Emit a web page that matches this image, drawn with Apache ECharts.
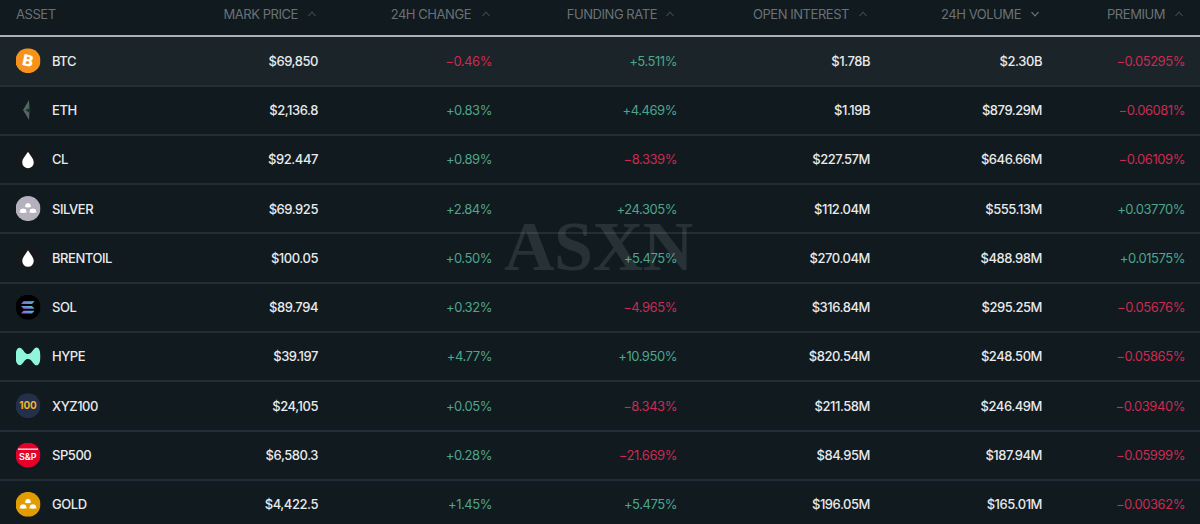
<!DOCTYPE html>
<html lang="en">
<head>
<meta charset="UTF-8">
<title>Perps</title>
<script src="https://cdn.jsdelivr.net/npm/echarts@6/dist/echarts.min.js"></script>
<style>
  html, body { margin: 0; background: #101a1f; }
  #chart { width: 1200px; height: 524px; }
  #chart svg text { letter-spacing: -0.45px; }
</style>
</head>
<body>
<div id="chart"></div>
<script>
var assets = ['BTC', 'ETH', 'CL', 'SILVER', 'BRENTOIL', 'SOL', 'HYPE', 'XYZ100', 'SP500', 'GOLD'];
var markPrice = ['$69,850', '$2,136.8', '$92.447', '$69.925', '$100.05', '$89.794', '$39.197', '$24,105', '$6,580.3', '$4,422.5'];
var change24h = [-0.46, 0.83, 0.89, 2.84, 0.50, 0.32, 4.77, 0.05, 0.28, 1.45];
var fundingRate = [5.511, 4.469, -8.339, 24.305, 5.475, -4.965, 10.950, -8.343, -21.669, 5.475];
var openInterest = ['$1.78B', '$1.19B', '$227.57M', '$112.04M', '$270.04M', '$316.84M', '$820.54M', '$211.58M', '$84.95M', '$196.05M'];
var volume24h = ['$2.30B', '$879.29M', '$646.66M', '$555.13M', '$488.98M', '$295.25M', '$248.50M', '$246.49M', '$187.94M', '$165.01M'];
var premium = [-0.05295, -0.06081, -0.06109, 0.03770, 0.01575, -0.05676, -0.05865, -0.03940, -0.05999, -0.00362];
var headers = ['MARK PRICE', '24H CHANGE', 'FUNDING RATE', 'OPEN INTEREST', '24H VOLUME', 'PREMIUM'];

// layout, in pixels of the 1200 wide page
var colRight = [318, 492, 677, 870, 1042, 1185];
var headRight = [298, 471, 657, 849, 1021, 1165];
var chevronX = [312, 486, 670, 863, 1035, 1179];

var FONT = 'Inter';
var GREEN = '#4fa58b', RED = '#cb2a52', WHITE = '#e8eaeb', GREY = '#6a7276';

function svg(inner) {
    return 'image://data:image/svg+xml,' + encodeURIComponent(
        '<svg xmlns="http://www.w3.org/2000/svg" width="100" height="100" viewBox="0 0 100 100">' + inner + '</svg>');
}
var DROP = '<circle cx="50" cy="50" r="50" fill="#16191b"/><path d="M50 20C40 36 27 48 27 63a23 23 0 0 0 46 0C73 48 60 36 50 20Z" fill="#fff"/>';
var BARS = '<g fill="#fff"><path d="M50 28l9 4 3 12-12 2-12-2 3-12z"/><path d="M31 50l10 3 4 13-14 2-15-2 4-13z"/><path d="M69 50l11 3 4 13-15 2-14-2 4-13z"/></g>';
var icons = [
    svg('<circle cx="50" cy="50" r="50" fill="#f7931a"/><text x="50" y="72" font-family="DejaVu Sans" font-weight="bold" font-size="62" text-anchor="middle" fill="#fff" transform="rotate(12 50 50)">B</text>'),
    svg('<path d="M54 10L30 50 54 90z" fill="#56645f"/><path d="M54 10L60 50 54 90z" fill="#0f4535"/><path d="M40 50l14 10 6-10-6-6z" fill="#16302a"/>'),
    svg(DROP),
    svg('<circle cx="50" cy="50" r="50" fill="#b4b0bd"/>' + BARS),
    svg(DROP),
    svg('<circle cx="50" cy="50" r="50" fill="#000"/><defs><linearGradient id="g" x1="0" x2="1" y1="1" y2="0"><stop offset="0" stop-color="#b040f0"/><stop offset="1" stop-color="#30e0c0"/></linearGradient></defs><g fill="url(#g)"><path d="M32 26h44l-10 11H22z"/><path d="M22 45h44l10 11H32z"/><path d="M32 64h44l-10 11H22z"/></g>'),
    svg('<path d="M0 50C0 18 14 8 26 20c10 10 12 20 24 20s16-12 26-22c12-10 24 2 24 32s-12 42-24 32c-10-10-14-22-26-22s-14 10-24 20C14 92 0 82 0 50Z" fill="#8ff5dc"/>'),
    svg('<circle cx="50" cy="50" r="50" fill="#22304a"/><text x="50" y="64" font-family="Inter" font-weight="bold" font-size="40" text-anchor="middle" fill="#f0b429">100</text>'),
    svg('<circle cx="50" cy="50" r="50" fill="#e4002b"/><rect x="10" y="24" width="80" height="5" fill="#fff"/><text x="50" y="68" font-family="Inter" font-weight="600" font-size="36" text-anchor="middle" fill="#fff">S&amp;P</text>'),
    svg('<circle cx="50" cy="50" r="50" fill="#e09c00"/>' + BARS)
];

function signed(v, digits) {
    return (v < 0 ? '\u2212' : '+') + Math.abs(v).toFixed(digits) + '%';
}

function textColumn(col, values, fmt, color) {
    return {
        type: 'scatter',
        symbolSize: 0,
        silent: true,
        z: 4,
        data: assets.map(function (a, i) {
            return {
                value: [colRight[col], a],
                label: { formatter: fmt(values[i]), color: color(values[i]) }
            };
        }),
        label: {
            show: true,
            position: 'left',
            distance: 0,
            fontFamily: FONT,
            fontSize: 13,
            fontWeight: color === solid ? 500 : 400
        },
        itemStyle: { opacity: 1 }
    };
}
function solid() { return WHITE; }
function bySign(v) { return v < 0 ? RED : GREEN; }
function plain(v) { return v; }

var series = [
    // icons
    {
        type: 'scatter', silent: true, z: 3, symbolSize: 25, symbolKeepAspect: true,
        itemStyle: { opacity: 1 },
        data: assets.map(function (a, i) {
            return { value: [28, a], symbol: icons[i] };
        })
    },
    // names
    {
        type: 'scatter', silent: true, z: 4, symbolSize: 0,
        itemStyle: { opacity: 1 },
        data: assets.map(function (a) { return { value: [52, a], label: { formatter: a } }; }),
        label: { show: true, position: 'right', distance: 0, fontFamily: FONT, fontSize: 13, fontWeight: 500, color: WHITE }
    },
    textColumn(0, markPrice, plain, solid),
    textColumn(1, change24h, function (v) { return signed(v, 2); }, bySign),
    textColumn(2, fundingRate, function (v) { return signed(v, 3); }, bySign),
    textColumn(3, openInterest, plain, solid),
    textColumn(4, volume24h, plain, solid),
    textColumn(5, premium, function (v) { return signed(v, 5); }, bySign),
    // header labels
    {
        type: 'scatter', silent: true, xAxisIndex: 1, yAxisIndex: 1, symbolSize: 0,
        itemStyle: { opacity: 1 },
        data: headers.map(function (h, i) {
            return { value: [headRight[i], 'head'], label: { formatter: h } };
        }),
        label: { show: true, position: 'left', distance: 0, fontFamily: FONT, fontSize: 13, color: GREY }
    },
    {
        type: 'scatter', silent: true, xAxisIndex: 1, yAxisIndex: 1, symbolSize: 0,
        itemStyle: { opacity: 1 },
        data: [{ value: [16, 'head'], label: { formatter: 'ASSET' } }],
        label: { show: true, position: 'right', distance: 0, fontFamily: FONT, fontSize: 13, color: GREY }
    },
    // sort chevrons
    {
        type: 'scatter', silent: true, xAxisIndex: 1, yAxisIndex: 1, symbolSize: [7, 4],
        data: headers.map(function (h, i) {
            var down = h === '24H VOLUME';
            return {
                value: [chevronX[i], 'head'],
                symbol: down ? 'path://M0 0L5 4 10 0' : 'path://M0 4L5 0 10 4',
                itemStyle: { opacity: 1, color: 'none', borderColor: down ? '#69757a' : '#3b464b', borderWidth: 1 }
            };
        })
    }
];

var chart = echarts.init(document.getElementById('chart'), null, { renderer: 'svg' });
chart.setOption({
    backgroundColor: '#101a1f',
    animation: false,
    grid: [
        { left: 0, right: 0, top: 36, height: 493, outerBoundsMode: 'none' },
        { left: 0, right: 0, top: 0, height: 28, outerBoundsMode: 'none' }
    ],
    xAxis: [
        {
            type: 'value', min: 0, max: 1200, position: 'top',
            axisLine: { show: true, onZero: false, lineStyle: { color: '#dadddf', width: 1.5 } },
            axisTick: { show: false }, axisLabel: { show: false }, splitLine: { show: false }
        },
        { type: 'value', min: 0, max: 1200, gridIndex: 1, show: false }
    ],
    yAxis: [
        {
            type: 'category', data: assets, inverse: true,
            axisLine: { show: false }, axisTick: { show: false }, axisLabel: { show: false },
            splitLine: { show: true, lineStyle: { color: '#2a3541', width: 1.5 } },
            splitArea: { show: true, areaStyle: { color: ['#1a2429', 'transparent', 'transparent', 'transparent', 'transparent', 'transparent', 'transparent', 'transparent', 'transparent', 'transparent'] } }
        },
        { type: 'category', data: ['head'], gridIndex: 1, show: false }
    ],
    graphic: [{
        type: 'text', left: 504, top: 211, z: 10, silent: true,
        style: { text: 'ASXN', font: 'bold 70px "Liberation Serif"', fill: '#fff', opacity: 0.1 }
    }],
    series: series
});
</script>
</body>
</html>
